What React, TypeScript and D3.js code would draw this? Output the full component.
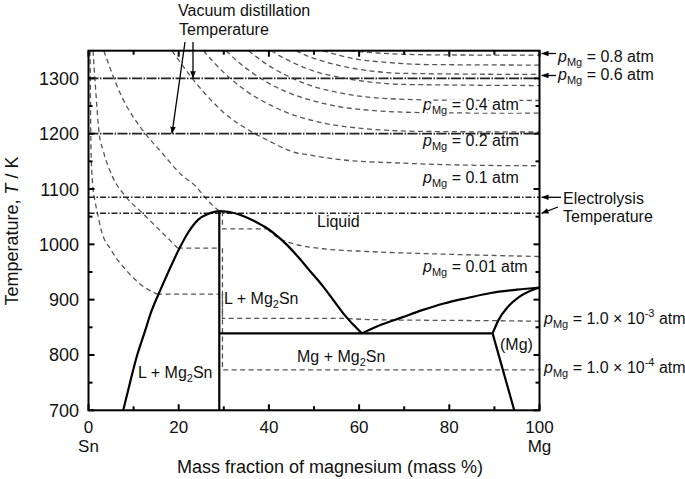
import React from "react";
import * as d3 from "d3";

// ---------- data (mass % Mg, T in K) ----------
const X_TICKS = [0, 20, 40, 60, 80, 100];
const X_MINOR = [10, 30, 50, 70, 90];
const Y_TICKS = [700, 800, 900, 1000, 1100, 1200, 1300];
const Y_MINOR = [750, 850, 950, 1050, 1150, 1250];

const LIQ_LEFT = [[7.7, 700], [9.2, 750], [10.8, 800], [12.4, 840], [14, 880], [15.8, 915], [17.7, 950], [20, 990], [22, 1020], [24.4, 1045], [26.5, 1055], [29, 1060]];
const LIQ_RIGHT = [[29, 1060], [31.5, 1058], [33.7, 1053], [36.5, 1043], [39.6, 1029], [42, 1014], [44, 999], [46.5, 977], [49.2, 951], [52, 924], [54.4, 898], [56.8, 872], [58.8, 854], [60.6, 839]];
const LIQ_MG = [[60.6, 839], [65, 855], [69.2, 867], [74, 881], [78.8, 893], [84, 903], [89.2, 912], [95, 918], [100, 922]];
const SOLVUS_UP = [[89.6, 839], [90.9, 863], [93, 887], [95.5, 905], [100, 922]];
const SOLVUS_LOW = [[89.6, 839], [94.4, 700]];
const COMPOUND = [[29, 700], [29, 1060]];
const EUTECTIC = [[29, 839], [89.6, 839]];

const ISO_08 = [[58, 1350], [62, 1347], [70, 1343.5], [80, 1342.3], [100, 1342]];
const ISO_07 = [[52, 1350], [55, 1343], [60, 1334], [66, 1329], [75, 1325], [100, 1324]];
const ISO_06 = [[46, 1350], [49, 1339], [52, 1331], [56, 1322.5], [62, 1314], [70, 1309], [100, 1307]];
const ISO_05 = [[40.5, 1350], [43, 1338], [46, 1326], [50, 1313], [55, 1303], [60, 1296], [70, 1289], [100, 1287]];
const ISO_04 = [[35.5, 1350], [38, 1334], [41, 1318], [45, 1301], [50, 1285], [55, 1275], [65, 1264], [80, 1260.5], [100, 1260]];
const ISO_03 = [[30.5, 1350], [33, 1331], [36, 1312], [40, 1291], [45, 1272], [50, 1259], [60, 1244], [75, 1238], [100, 1237]];
const ISO_02 = [[25.5, 1350], [28, 1327], [31, 1303], [35, 1277], [40, 1253], [45, 1235], [50, 1223], [60, 1210], [75, 1204], [100, 1203]];
const ISO_01 = [[18.5, 1350], [23, 1300], [27, 1262], [30, 1238], [34.8, 1210], [40, 1187], [45, 1168], [50, 1160], [56, 1153], [69, 1147], [85, 1143], [100, 1142]];
const ISO_001_SN = [[3.4, 1350], [6.8, 1277], [12.8, 1198], [15.7, 1171], [20.7, 1125], [23.9, 1104], [26, 1083], [29, 1060]];
const ISO_001_STEP = [[29.7, 1060], [29.7, 1028], [39.6, 1028]];
const ISO_001_MG = [[39.6, 1028], [42, 1012], [46, 1000], [52, 992], [62, 987], [80, 982], [100, 978]];
const ISO_1E3_SN = [[1.0, 1350], [1.5, 1290], [2.4, 1198], [3.2, 1171], [5.4, 1121], [8.3, 1086], [12, 1056], [16.5, 1020], [19.8, 993]];
const ISO_1E3_STEP = [[19.8, 993], [29, 993]];
const ISO_1E3_MG = [[29.7, 993], [29.7, 866], [57, 866], [62, 864], [70, 863], [90, 862], [100, 861]];
const ISO_1E4_SN = [[0.35, 1350], [0.45, 1250], [0.56, 1171], [0.9, 1110], [1.4, 1080], [2.0, 1056], [2.8, 1026], [5, 990], [8.5, 952], [11.5, 928], [15.2, 910]];
const ISO_1E4_STEP = [[15.2, 910], [29, 910]];
const ISO_1E4_MG = [[29.7, 910], [29.7, 773], [100, 773]];

const VACUUM_T = [1300, 1200];
const ELECTRO_T = [1085, 1056];

// ---------- layout ----------
const W = 685, H = 479;
const X0 = 88.5, X1 = 539.5, Y0 = 410.3, Y1 = 50.7;
const FONT = "Liberation Sans, Arial, sans-serif";

const x = d3.scaleLinear().domain([0, 100]).range([X0, X1]);
const y = d3.scaleLinear().domain([700, 1350]).range([Y0, Y1]);

const smooth = d3.line<number[]>().x(d => x(d[0])).y(d => y(d[1])).curve(d3.curveMonotoneX);
const straight = d3.line<number[]>().x(d => x(d[0])).y(d => y(d[1]));

function PLabel({ px, py, value, sup, halo }: { px: number; py: number; value: string; sup?: string; halo?: boolean }) {
  return (
    <text x={px} y={py} fontSize={16} fontFamily={FONT} fill="#111"
      stroke={halo ? "#fff" : "none"} strokeWidth={halo ? 5 : 0} style={{ paintOrder: "stroke" }}>
      <tspan fontStyle="italic">p</tspan>
      <tspan fontSize={11} dy={4}>Mg</tspan>
      <tspan dy={-4}>{` = ${value}`}</tspan>
      {sup ? <tspan fontSize={11} dy={-7}>{sup}</tspan> : null}
      {sup ? <tspan dy={7}> atm</tspan> : null}
    </text>
  );
}

function Mg2Sn({ px, py, prefix }: { px: number; py: number; prefix: string }) {
  return (
    <text x={px} y={py} fontSize={16} fontFamily={FONT} fill="#111">
      {prefix}Mg<tspan fontSize={11} dy={4}>2</tspan><tspan dy={-4}>Sn</tspan>
    </text>
  );
}

export default function App() {
  const upper = [ISO_08, ISO_07, ISO_06, ISO_05, ISO_04, ISO_03, ISO_02, ISO_01, ISO_001_SN, ISO_001_MG, ISO_1E3_SN, ISO_1E4_SN];
  const steps = [ISO_001_STEP, ISO_1E3_STEP, ISO_1E3_MG, ISO_1E4_STEP, ISO_1E4_MG];
  const isoStyle = { fill: "none", stroke: "#555", strokeWidth: 1.3, strokeDasharray: "5,3.5" };
  const phaseStyle = { fill: "none", stroke: "#000", strokeWidth: 2.2 };

  return (
    <svg width={W} height={H} style={{ position: "absolute", left: 0, top: 0, background: "#fff" }}>
      <defs>
        <marker id="ah" viewBox="0 0 10 10" refX="10" refY="5" markerWidth="7" markerHeight="7" orient="auto-start-reverse" markerUnits="userSpaceOnUse">
          <path d="M0,1 L10,5 L0,9 z" fill="#000" />
        </marker>
        <clipPath id="plot">
          <rect x={X0} y={Y1} width={X1 - X0} height={Y0 - Y1} />
        </clipPath>
      </defs>
      <rect x={0} y={0} width={W} height={H} fill="#fff" />

      <g clipPath="url(#plot)">
        {upper.map((d, i) => <path key={"u" + i} d={smooth(d) || ""} {...isoStyle} />)}
        {steps.map((d, i) => <path key={"s" + i} d={straight(d) || ""} {...isoStyle} />)}

        {VACUUM_T.map(t => (
          <line key={"v" + t} x1={X0} x2={X1} y1={y(t)} y2={y(t)} stroke="#222" strokeWidth={1.8} strokeDasharray="10,1.5,1.5,1.5" />
        ))}
        {ELECTRO_T.map(t => (
          <line key={"e" + t} x1={X0} x2={X1} y1={y(t)} y2={y(t)} stroke="#222" strokeWidth={1.5} strokeDasharray="6,2,1.5,2" />
        ))}

        <path d={smooth(LIQ_LEFT) || ""} {...phaseStyle} />
        <path d={smooth(LIQ_RIGHT) || ""} {...phaseStyle} />
        <path d={smooth(LIQ_MG) || ""} {...phaseStyle} />
        <path d={smooth(SOLVUS_UP) || ""} {...phaseStyle} />
        <path d={straight(SOLVUS_LOW) || ""} {...phaseStyle} />
        <path d={straight(COMPOUND) || ""} {...phaseStyle} />
        <path d={straight(EUTECTIC) || ""} {...phaseStyle} />
      </g>

      {/* axes frame */}
      <rect x={X0} y={Y1} width={X1 - X0} height={Y0 - Y1} fill="none" stroke="#000" strokeWidth={2} />
      {X_TICKS.map(v => (
        <g key={"xt" + v}>
          <line x1={x(v)} x2={x(v)} y1={Y0} y2={Y0 - 6} stroke="#000" strokeWidth={2} />
          <line x1={x(v)} x2={x(v)} y1={Y1} y2={Y1 + 6} stroke="#000" strokeWidth={2} />
          <text x={x(v)} y={432.5} textAnchor="middle" fontSize={17} fontFamily={FONT} fill="#111">{v}</text>
        </g>
      ))}
      {X_MINOR.map(v => (
        <g key={"xm" + v}>
          <line x1={x(v)} x2={x(v)} y1={Y0} y2={Y0 - 4} stroke="#000" strokeWidth={2} />
          <line x1={x(v)} x2={x(v)} y1={Y1} y2={Y1 + 4} stroke="#000" strokeWidth={2} />
        </g>
      ))}
      {Y_TICKS.map(v => (
        <g key={"yt" + v}>
          <line x1={X0} x2={X0 + 6} y1={y(v)} y2={y(v)} stroke="#000" strokeWidth={2} />
          <line x1={X1} x2={X1 - 6} y1={y(v)} y2={y(v)} stroke="#000" strokeWidth={2} />
          <text x={79} y={y(v) + 6.5} textAnchor="end" fontSize={18} fontFamily={FONT} fill="#111">{v}</text>
        </g>
      ))}
      {Y_MINOR.map(v => (
        <g key={"ym" + v}>
          <line x1={X0} x2={X0 + 4} y1={y(v)} y2={y(v)} stroke="#000" strokeWidth={2} />
          <line x1={X1} x2={X1 - 4} y1={y(v)} y2={y(v)} stroke="#000" strokeWidth={2} />
        </g>
      ))}
      <text x={x(0)} y={452} textAnchor="middle" fontSize={17} fontFamily={FONT} fill="#111">Sn</text>
      <text x={x(100)} y={452} textAnchor="middle" fontSize={17} fontFamily={FONT} fill="#111">Mg</text>
      <text x={330} y={473} textAnchor="middle" fontSize={18} fontFamily={FONT} fill="#111">Mass fraction of magnesium (mass %)</text>
      <text transform="translate(18,231) rotate(-90)" textAnchor="middle" fontSize={18} fontFamily={FONT} fill="#111">
        Temperature, <tspan fontStyle="italic">T</tspan> / K
      </text>

      {/* region labels */}
      <text x={317} y={227} fontSize={16} fontFamily={FONT} fill="#111">Liquid</text>
      <Mg2Sn px={224} py={304} prefix="L + " />
      <Mg2Sn px={138} py={378} prefix="L + " />
      <Mg2Sn px={297} py={362} prefix="Mg + " />
      <text x={500} y={350} fontSize={16} fontFamily={FONT} fill="#111">(Mg)</text>

      {/* pressure labels */}
      <PLabel px={423} py={110} value="0.4 atm" halo />
      <PLabel px={423} py={146} value="0.2 atm" />
      <PLabel px={423} py={183} value="0.1 atm" />
      <PLabel px={423} py={271.5} value="0.01 atm" />
      <PLabel px={558} py={61.5} value="0.8 atm" />
      <PLabel px={558} py={80} value="0.6 atm" />
      <PLabel px={544} py={324} value="1.0 × 10" sup="-3" />
      <PLabel px={544} py={373} value="1.0 × 10" sup="-4" />

      {/* annotations */}
      <text x={178} y={15.5} fontSize={16} fontFamily={FONT} fill="#111">Vacuum distillation</text>
      <text x={179} y={35} fontSize={16} fontFamily={FONT} fill="#111">Temperature</text>
      <line x1={185} y1={42} x2={172} y2={y(1200)} stroke="#000" strokeWidth={1.3} markerEnd="url(#ah)" />
      <line x1={193} y1={42} x2={193} y2={y(1300)} stroke="#000" strokeWidth={1.3} markerEnd="url(#ah)" />

      <text x={563} y={204} fontSize={16} fontFamily={FONT} fill="#111">Electrolysis</text>
      <text x={563} y={222} fontSize={16} fontFamily={FONT} fill="#111">Temperature</text>
      <line x1={561} y1={y(1085)} x2={541.5} y2={y(1085)} stroke="#000" strokeWidth={1.3} markerEnd="url(#ah)" />
      <line x1={558} y1={207} x2={541.5} y2={y(1056)} stroke="#000" strokeWidth={1.3} markerEnd="url(#ah)" />
      <line x1={556} y1={53.5} x2={541.5} y2={53.5} stroke="#000" strokeWidth={1.3} markerEnd="url(#ah)" />
      <line x1={556} y1={75.5} x2={541.5} y2={75.5} stroke="#000" strokeWidth={1.3} markerEnd="url(#ah)" />
    </svg>
  );
}
